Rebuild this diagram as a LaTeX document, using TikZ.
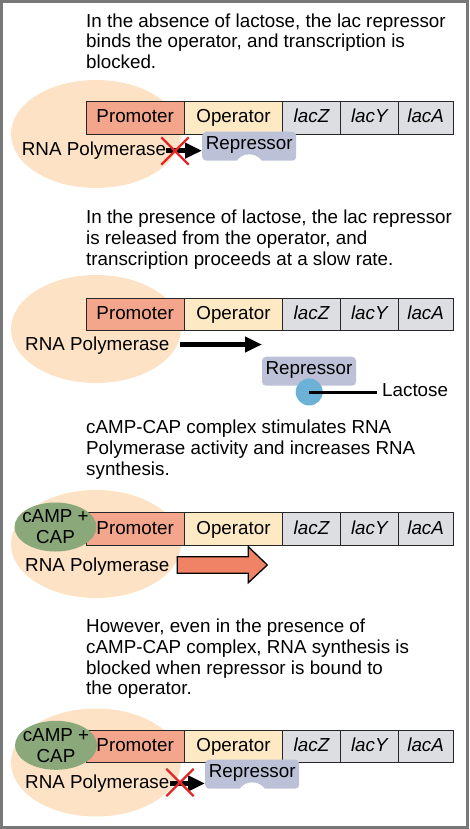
\documentclass[tikz,border=0pt]{standalone}
\usepackage{fontspec}
\setmainfont{Liberation Sans}
\usetikzlibrary{arrows.meta,calc,positioning,shapes.geometric,shapes.misc}
\definecolor{framegray}{RGB}{120,120,120}
\definecolor{polpeach}{RGB}{253,226,197}
\definecolor{promsalmon}{RGB}{243,166,140}
\definecolor{opercream}{RGB}{253,233,195}
\definecolor{genegray}{RGB}{221,222,225}
\definecolor{replav}{RGB}{188,193,216}
\definecolor{lacblue}{RGB}{108,178,214}
\definecolor{campgreen}{RGB}{139,168,123}
\definecolor{pushcoral}{RGB}{240,130,102}
\definecolor{stopred}{RGB}{228,38,40}
\tikzset{
	caption/.style={anchor=north west, align=left, inner sep=0pt},
	freetext/.style={anchor=base west, inner sep=0pt},
	polblob/.style={ellipse, fill=polpeach, minimum width=170pt, minimum height=108pt, inner sep=0pt},
	campblob/.style={ellipse, fill=campgreen, minimum width=82pt, minimum height=49pt, inner sep=0pt},
	camptext/.style={align=center, inner sep=0pt},
	genebox/.style={draw=black!85, line width=0.9pt, minimum height=32.6pt, inner sep=0pt, outer sep=0pt, text height=13pt, text depth=3pt},
	repbox/.style={fill=replav, rounded corners=4pt, minimum width=94pt, minimum height=29pt, inner sep=0pt, text height=13pt, text depth=6pt},
	pushline/.style={line width=4.5pt, -{Triangle[length=17pt,width=15pt]}},
	stopcross/.style={cross out, draw=stopred, line width=2.3pt, minimum width=25pt, minimum height=25pt, inner sep=0pt}
}

\begin{document}
\begin{tikzpicture}[x=1pt, y=-1pt, font=\fontsize{18.8}{20.8}\selectfont]
		%%%%% START %%%%%
		\useasboundingbox (0,0) rectangle (469,829);
		\draw[framegray, line width=3pt] (1.5,1.5) rectangle (467,827.5);
		
		\node[caption] (cap1) at (86,13.3) {In the absence of lactose, the lac repressor\\binds the operator, and transcription is\\blocked.};
		\node[caption] (cap2) at (86,209.6) {In the presence of lactose, the lac repressor\\is released from the operator, and\\transcription proceeds at a slow rate.};
		\node[caption] (cap3) at (86,419.6) {cAMP-CAP complex stimulates RNA\\Polymerase activity and increases RNA\\synthesis.};
		\node[caption] (cap4) at (86,618.6) {However, even in the presence of\\cAMP-CAP complex, RNA synthesis is\\blocked when repressor is bound to\\the operator.};
		
		\foreach \i/\y in {1/134,2/329,3/544,4/762.5}
			\node[polblob] (pol\i) at (96,\y) {};
		
		\foreach \i/\y in {1/101.7,2/298.3,3/512.7,4/730}{
			\node[genebox, fill=promsalmon, minimum width=98.3pt, anchor=north west] (prom\i) at (86,\y) {Promoter};
			\node[genebox, fill=opercream, minimum width=98.4pt, right=0pt of prom\i] (oper\i) {Operator};
			\node[genebox, fill=genegray, minimum width=57.6pt, right=0pt of oper\i] (lacz\i) {\itshape lacZ};
			\node[genebox, fill=genegray, minimum width=58pt, right=0pt of lacz\i] (lacy\i) {\itshape lacY};
			\node[genebox, fill=genegray, minimum width=54.7pt, right=0pt of lacy\i] (laca\i) {\itshape lacA};
		}
		
		% no lactose
		\node[freetext] (rna1) at (21.7,155.5) {RNA Polymerase};
		\node[repbox] (rep1) at (249.2,146.2) {Repressor};
		\fill[white] ($(rep1.south)+(0,8.8)$) circle (15.3pt);
		\draw[pushline] (rna1.east) -- (rna1.east -| rep1.west);
		\node[stopcross] (stop1) at (175,151) {};
		
		% lactose present
		\node[freetext] (rna2) at (25,350.7) {RNA Polymerase};
		\coordinate (run2a) at (180,344.5);
		\coordinate (run2b) at (262,344.5);
		\draw[pushline] (run2a) -- (run2b);
		\node[repbox] (rep2) at (309,371.2) {Repressor};
		\node[circle, fill=lacblue, minimum size=27pt, inner sep=0pt] (lac2) at (309.2,392) {};
		\node[freetext, inner xsep=5pt] (lactxt) at (377,396) {Lactose};
		\draw[line width=3pt] (lac2.center) -- (lac2.center -| lactxt.west);
		
		% cAMP-CAP
		\node[campblob] (camp3) at (55.5,527) {};
		\node[camptext] (camplbl3) at (camp3.center) {cAMP +\\CAP};
		\node[freetext] (rna3) at (25,571) {RNA Polymerase};
		\draw[fill=pushcoral, line width=1.3pt] (177.3,556.7) -- (248.3,556.7) -- (248.3,546.7) -- (267.3,565) -- (248.3,582.7) -- (248.3,573.3) -- (177.3,573.3) -- cycle;
		
		% cAMP-CAP with repressor
		\node[campblob] (camp4) at (56,745.3) {};
		\node[camptext] (camplbl4) at (camp4.center) {cAMP +\\CAP};
		\node[freetext] (rna4) at (25,788.3) {RNA Polymerase};
		\node[repbox] (rep4) at (252.2,774.2) {Repressor};
		\fill[white] ($(rep4.south)+(0,8.8)$) circle (15.3pt);
		\draw[pushline] (rna4.east) -- (rna4.east -| rep4.west);
		\node[stopcross] (stop4) at (180,782.5) {};
		
		%%%%% END %%%%%
\end{tikzpicture}
\end{document}
